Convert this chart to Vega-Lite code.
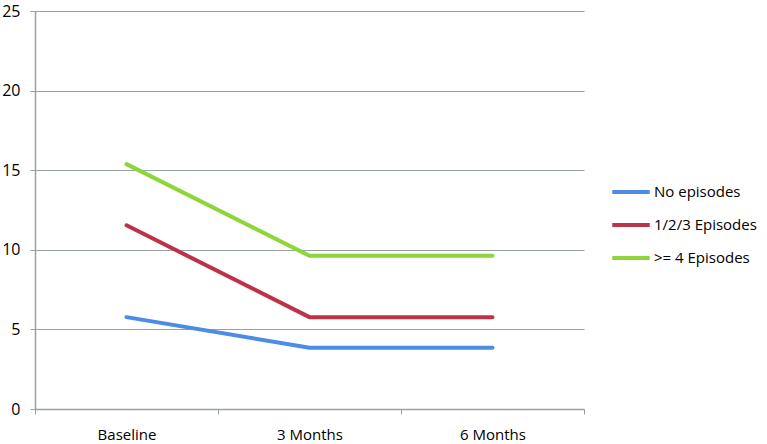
{
  "$schema": "https://vega.github.io/schema/vega-lite/v6.json",
  "width": 549,
  "height": 398,
  "autosize": {"type": "none"},
  "padding": {"left": 35, "top": 11, "right": 183, "bottom": 35},
  "background": "white",
  "config": {
    "view": {"stroke": null},
    "font": "Open Sans"
  },
  "data": {
    "values": [
      {"time": "Baseline", "group": "No episodes", "value": 5.77},
      {"time": "3 Months", "group": "No episodes", "value": 3.85},
      {"time": "6 Months", "group": "No episodes", "value": 3.85},
      {"time": "Baseline", "group": "1/2/3 Episodes", "value": 11.54},
      {"time": "3 Months", "group": "1/2/3 Episodes", "value": 5.77},
      {"time": "6 Months", "group": "1/2/3 Episodes", "value": 5.77},
      {"time": "Baseline", "group": ">= 4 Episodes", "value": 15.38},
      {"time": "3 Months", "group": ">= 4 Episodes", "value": 9.62},
      {"time": "6 Months", "group": ">= 4 Episodes", "value": 9.62}
    ]
  },
  "mark": {"type": "line", "strokeWidth": 4, "strokeCap": "round"},
  "encoding": {
    "x": {
      "field": "time",
      "type": "nominal",
      "sort": ["Baseline", "3 Months", "6 Months"],
      "scale": {"type": "band", "paddingInner": 0, "paddingOuter": 0},
      "axis": {
        "title": null,
        "labelAngle": 0,
        "labelFontSize": 15,
        "labelColor": "#000000",
        "labelPadding": 13,
        "tickBand": "extent",
        "tickSize": 5,
        "tickColor": "#97A3A3",
        "domainColor": "#97A3A3",
        "domainWidth": 1.5,
        "grid": false
      }
    },
    "y": {
      "field": "value",
      "type": "quantitative",
      "scale": {"domain": [0, 25]},
      "axis": {
        "title": null,
        "values": [0, 5, 10, 15, 20, 25],
        "labelFontSize": 16,
        "labelColor": "#000000",
        "labelPadding": 10,
        "tickSize": 5,
        "tickColor": "#97A3A3",
        "domainColor": "#97A3A3",
        "domainWidth": 1.5,
        "gridColor": "#97A3A3",
        "gridWidth": 1.2
      }
    },
    "color": {
      "field": "group",
      "type": "nominal",
      "sort": ["No episodes", "1/2/3 Episodes", ">= 4 Episodes"],
      "scale": {
        "domain": ["No episodes", "1/2/3 Episodes", ">= 4 Episodes"],
        "range": ["#4A8CE6", "#BE3247", "#8FD53A"]
      },
      "legend": {
        "title": null,
        "orient": "none",
        "legendX": 575,
        "legendY": 160,
        "symbolType": "stroke",
        "symbolSize": 1400,
        "symbolStrokeWidth": 4,
        "labelFontSize": 15,
        "labelColor": "#000000",
        "labelOffset": 2,
        "rowPadding": 4,
        "padding": 0
      }
    }
  }
}
